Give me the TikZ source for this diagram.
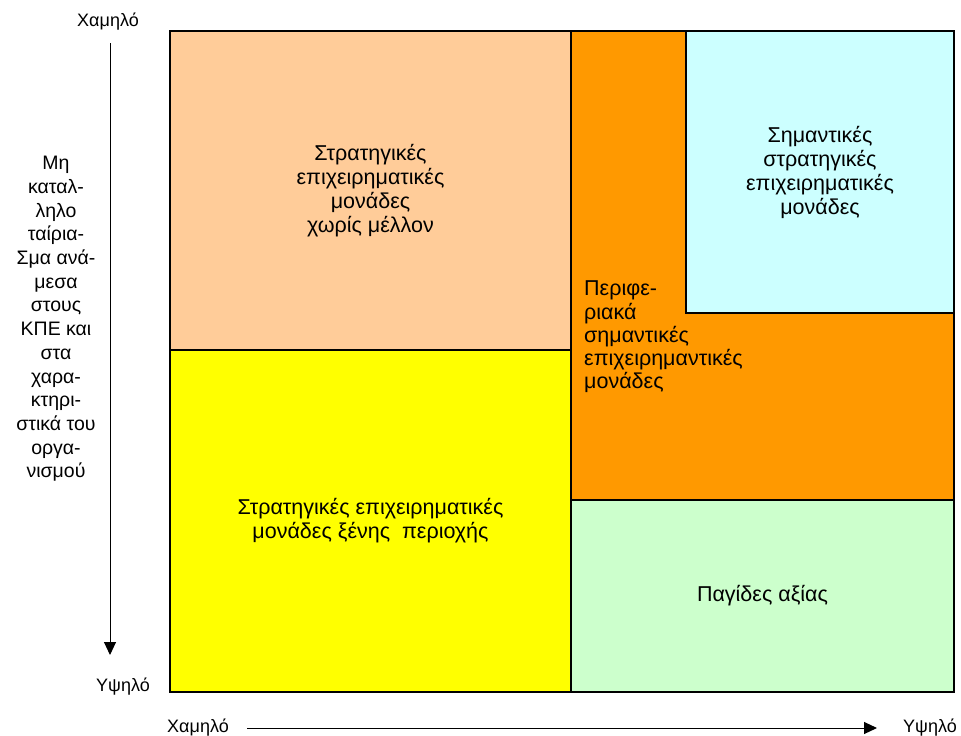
\documentclass[tikz,border=0pt]{standalone}
\usepackage{fontspec}
\setmainfont{Liberation Sans}
\usetikzlibrary{arrows.meta}
\definecolor{peach}{HTML}{FFCC99}
\definecolor{yel}{HTML}{FFFF00}
\definecolor{orng}{HTML}{FF9900}
\definecolor{cyn}{HTML}{CCFFFF}
\definecolor{grn}{HTML}{CCFFCC}
\begin{document}
\begin{tikzpicture}[x=1pt,y=-1pt,
  cell/.style={draw=black, line width=1.5pt, anchor=north west, inner sep=0pt, outer sep=0pt},
  boxtext/.style={font=\fontsize{21.5}{24}\selectfont, align=center, inner sep=0pt},
  sidetext/.style={font=\fontsize{19.5}{23.7}\selectfont, align=center, inner sep=0pt},
  axislabel/.style={font=\fontsize{18}{21}\selectfont, inner sep=0pt},
  axisarrow/.style={line width=1pt, -{Triangle[length=13pt,width=12pt]}}]
\useasboundingbox (0,0) rectangle (961,736);
% cells
\node[cell, fill=peach, minimum width=401pt, minimum height=319pt] (peachbox) at (170,31) {};
\node[cell, fill=yel, minimum width=401pt, minimum height=342pt] (yellowbox) at (170,350) {};
\node[cell, fill=orng, minimum width=383pt, minimum height=469pt] (orangebox) at (571,31) {};
\node[cell, fill=cyn, minimum width=268pt, minimum height=282pt] (cyanbox) at (686,31) {};
\node[cell, fill=grn, minimum width=383pt, minimum height=192pt] (greenbox) at (571,500) {};
% texts
\node[boxtext] (tpeach) at (peachbox.center) {Στρατηγικές\\επιχειρηματικές\\μονάδες\\χωρίς μέλλον};
\node[boxtext] (tyellow) at (yellowbox.center) {Στρατηγικές επιχειρηματικές\\μονάδες ξένης\ \ περιοχής};
\node[boxtext] (tcyan) at (cyanbox.center) {Σημαντικές\\στρατηγικές\\επιχειρηματικές\\μονάδες};
\node[boxtext, align=left, anchor=west, font=\fontsize{21.5}{23.3}\selectfont] (torange) at (584,337) {Περιφε-\\ριακά\\σημαντικές\\επιχειρημαντικές\\μονάδες};
\node[boxtext] (tgreen) at (greenbox.center) {Παγίδες αξίας};
% side label
\node[sidetext] (side) at (56,319) {Μη\\καταλ-\\ληλο\\ταίρια-\\Σμα ανά-\\μεσα\\στους\\ΚΠΕ και\\στα\\χαρα-\\κτηρι-\\στικά του\\οργα-\\νισμού};
% axes
\coordinate (vtop) at (110,43);
\coordinate (vbot) at (110,655);
\coordinate (hleft) at (247,728);
\coordinate (hright) at (877,728);
\draw[axisarrow] (vtop) -- (vbot);
\draw[axisarrow] (hleft) -- (hright);
\node[axislabel] (vlow) at (108,22) {Χαμηλό};
\node[axislabel] (vhigh) at (123,687) {Υψηλό};
\node[axislabel] (hlow) at (198,728) {Χαμηλό};
\node[axislabel] (hhigh) at (930,728) {Υψηλό};
\end{tikzpicture}
\end{document}
